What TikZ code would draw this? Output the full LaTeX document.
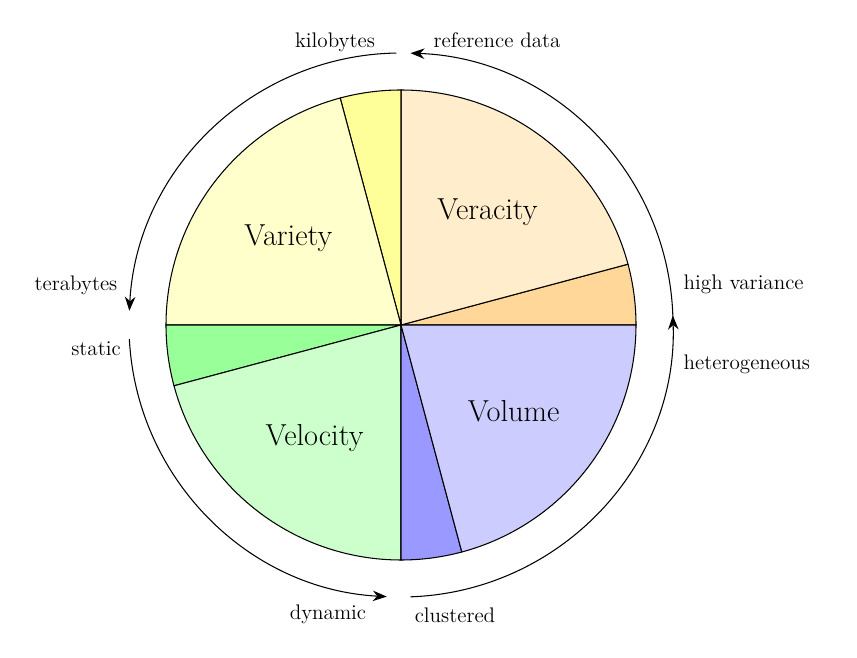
\documentclass[tikz,border=0pt]{standalone}
\usetikzlibrary{arrows.meta}
\definecolor{orangeA}{HTML}{FFD899}
\definecolor{orangeB}{HTML}{FFEDCC}
\definecolor{yellowA}{HTML}{FFFF99}
\definecolor{yellowB}{HTML}{FFFFCC}
\definecolor{greenA}{HTML}{99FF99}
\definecolor{greenB}{HTML}{CCFFCC}
\definecolor{blueA}{HTML}{9999FF}
\definecolor{blueB}{HTML}{CCCCFF}
\tikzset{
  wedge/.style={draw, line width=0.6pt},
  ring/.style={-{Stealth[length=8pt]}, line width=0.6pt},
  tag/.style={font=\large},
  title/.style={font=\LARGE}
}
\begin{document}
\begin{tikzpicture}
  \useasboundingbox (0,0) rectangle (17.14,13.16);
  \coordinate (c) at (8.02,6.66);
  % wedges: start angle / colour / big label
  \foreach \a/\col/\name in {0/orange/Veracity, 90/yellow/Variety, 180/green/Velocity, 270/blue/Volume} {
    \pgfmathsetmacro{\sm}{\a+7.5}
    \pgfmathsetmacro{\bg}{\a+52.5}
    \draw[fill=\col A, wedge, shift={(\sm:0.09)}] (c) -- ++(\a:4.7) arc[start angle=\a, end angle=\a+15, radius=4.7] -- cycle;
    \draw[fill=\col B, wedge, shift={(\bg:0.06)}] (c) -- ++(\a+15:4.7) arc[start angle=\a+15, end angle=\a+90, radius=4.7] -- cycle;
    \node[title] at ([shift={(\bg:2.84)}]c) {\name};
  }
  % outer arrows
  \foreach \s/\e in {0.5/88, 91/177, 183/267, 272/362} {
    \draw[ring] ([shift={(\s:5.44)}]c) arc[start angle=\s, end angle=\e, radius=5.44];
  }
  % outer labels
  \node[tag, anchor=west] (refdata) at (8.55,12.36) {reference data};
  \node[tag] (kilo) at (6.7,12.32) {kilobytes};
  \node[tag] (tera) at (1.52,7.46) {terabytes};
  \node[tag] (static) at (1.92,6.18) {static};
  \node[tag, anchor=west] (highvar) at (13.55,7.48) {high variance};
  \node[tag, anchor=west] (hetero) at (13.55,5.88) {heterogeneous};
  \node[tag] (dynamic) at (6.56,0.88) {dynamic};
  \node[tag] (clustered) at (9.1,0.86) {clustered};
\end{tikzpicture}
\end{document}
